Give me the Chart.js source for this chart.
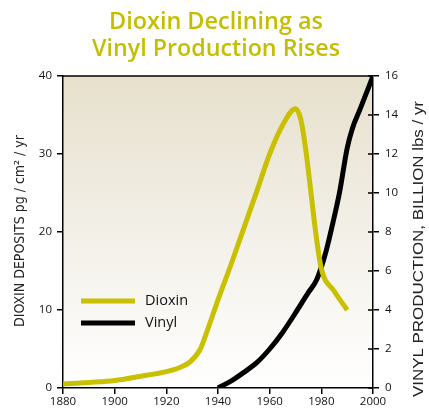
<!DOCTYPE html>
<html>
<head>
<meta charset="utf-8">
<script src="https://cdn.jsdelivr.net/npm/chart.js@4.4.1/dist/chart.umd.min.js"></script>
<style>
html,body{margin:0;padding:0;background:#fff;}
#wrap{width:429px;height:417px;position:relative;}
</style>
</head>
<body>
<div id="wrap"><canvas id="c" width="429" height="417"></canvas></div>
<script>
const titleLines = ["Dioxin Declining as", "Vinyl Production Rises"];
const dioxinYears  = [1880,1890,1900,1910,1920,1925,1929,1933,1936,1940,1945,1950,1955,1960,1965,1970,1972,1974,1976,1978,1980,1985,1990];
const dioxinValues = [0.5,0.7,0.95,1.5,2.1,2.6,3.3,4.9,7.5,11.3,15.8,20.5,25.2,30,33.7,35.8,34.5,30.5,25,19.5,15.3,12.4,10];
const vinylYears  = [1940,1945,1950,1955,1960,1965,1970,1975,1978,1980,1982,1984,1987,1990,1992,1995,2000];
const vinylValues = [0,0.35,0.8,1.3,2.0,2.85,3.85,4.9,5.5,6.2,7.1,8.2,10,12.3,13.3,14.3,16];
const xTicks = [1880,1900,1920,1940,1960,1980,2000];
const leftTicks = [0,10,20,30,40];
const rightTicks = [0,2,4,6,8,10,12,14,16];
const seriesNames = ["Dioxin","Vinyl"];
const seriesColors = ["#c8c000","#000000"];
const leftTitle = "DIOXIN DEPOSITS pg / cm² / yr";
const rightTitle = "VINYL PRODUCTION, BILLION lbs / yr";

const toPts = (xs, ys) => xs.map((x,i)=>({x:x, y:ys[i]}));

function fitFont(ctx, text, family, weight, width){
  ctx.font = weight + ' 20px ' + family;
  const w = ctx.measureText(text).width;
  return weight + ' ' + (20*width/w).toFixed(2) + 'px ' + family;
}

const deco = {
  id:'deco',
  beforeDraw(chart){
    const {ctx, chartArea:a} = chart;
    const g = ctx.createLinearGradient(0,a.top,0,a.bottom);
    g.addColorStop(0,'#e7e0cc');
    g.addColorStop(0.45,'#f1eee5');
    g.addColorStop(1,'#ffffff');
    ctx.save();
    ctx.fillStyle = g;
    ctx.fillRect(a.left,a.top,a.right-a.left,a.bottom-a.top);
    ctx.restore();
  },
  afterDraw(chart){
    const {ctx, chartArea:a} = chart;
    ctx.save();
    // title
    ctx.fillStyle = '#c5be00';
    ctx.textAlign = 'center';
    ctx.textBaseline = 'alphabetic';
    ctx.font = fitFont(ctx, titleLines[0], '"Open Sans", sans-serif', '600', 214);
    ctx.fillText(titleLines[0], 216, 29);
    ctx.font = fitFont(ctx, titleLines[1], '"Open Sans", sans-serif', '600', 248);
    ctx.fillText(titleLines[1], 216, 56);
    // axis titles
    ctx.fillStyle = '#222';
    ctx.textBaseline = 'middle';
    ctx.save();
    ctx.translate(20, 231);
    ctx.rotate(-Math.PI/2);
    ctx.font = fitFont(ctx, leftTitle, '"Liberation Sans Narrow", "DejaVu Sans Condensed", sans-serif', 'normal', 192);
    ctx.fillText(leftTitle, 0, 0);
    ctx.restore();
    ctx.save();
    ctx.translate(419, 249);
    ctx.rotate(-Math.PI/2);
    ctx.font = '14.5px "Liberation Sans", Arial, sans-serif';
    const rw = ctx.measureText(rightTitle).width;
    ctx.scale(296 / rw, 1);
    ctx.fillText(rightTitle, 0, 0);
    ctx.restore();
    // top border
    ctx.strokeStyle = '#000';
    ctx.lineWidth = 1.5;
    ctx.beginPath();
    ctx.moveTo(a.left, a.top); ctx.lineTo(a.right, a.top);
    ctx.stroke();
    // right axis inner tick parts
    const y2 = chart.scales.y2;
    ctx.beginPath();
    rightTicks.forEach(v=>{
      const py = y2.getPixelForValue(v);
      ctx.moveTo(a.right-5, py); ctx.lineTo(a.right, py);
    });
    ctx.stroke();
    // legend
    ctx.lineWidth = 5;
    ctx.font = '14.5px "Open Sans", sans-serif';
    ctx.textAlign = 'left';
    ctx.textBaseline = 'middle';
    const ly = [301, 323];
    chart.data.datasets.forEach((ds,i)=>{
      ctx.strokeStyle = ds.borderColor;
      ctx.beginPath();
      ctx.moveTo(81, ly[i]); ctx.lineTo(135, ly[i]);
      ctx.stroke();
      ctx.fillStyle = '#111';
      ctx.fillText(ds.label, 145, ly[i]);
    });
    ctx.restore();
  }
};

const tickFont = {family:'"Open Sans", sans-serif', size:11.5};

new Chart(document.getElementById('c'), {
  type:'line',
  data:{
    datasets:[
      {label:seriesNames[0], data:toPts(dioxinYears,dioxinValues), borderColor:seriesColors[0], borderWidth:5, pointRadius:0, cubicInterpolationMode:'monotone', yAxisID:'y', fill:false, borderCapStyle:'butt', borderJoinStyle:'round'},
      {label:seriesNames[1], data:toPts(vinylYears,vinylValues), borderColor:seriesColors[1], borderWidth:5, pointRadius:0, cubicInterpolationMode:'monotone', yAxisID:'y2', fill:false, borderJoinStyle:'round'}
    ]
  },
  options:{
    responsive:false,
    animation:false,
    events:[],
    layout:{padding:{top:76,left:0,right:0,bottom:0}},
    plugins:{legend:{display:false}, tooltip:{enabled:false}, title:{display:false}},
    scales:{
      x:{
        type:'linear', min:1880, max:2000,
        afterBuildTicks(s){ s.ticks = xTicks.map(v=>({value:v})); },
        afterFit(s){ s.height = 29; },
        ticks:{callback:v=>String(v), color:'#111', font:tickFont, padding:1, maxRotation:0},
        grid:{drawOnChartArea:false, drawTicks:true, tickLength:6, color:'#000', lineWidth:1.5},
        border:{display:true, color:'#000', width:1.5}
      },
      y:{
        type:'linear', position:'left', min:0, max:40,
        afterBuildTicks(s){ s.ticks = leftTicks.map(v=>({value:v})); },
        afterFit(s){ s.width = 63; },
        ticks:{color:'#111', font:tickFont, padding:5},
        grid:{drawOnChartArea:false, drawTicks:true, tickLength:6, color:'#000', lineWidth:1.5},
        border:{display:true, color:'#000', width:1.5}
      },
      y2:{
        type:'linear', position:'right', min:0, max:16,
        afterBuildTicks(s){ s.ticks = rightTicks.map(v=>({value:v})); },
        afterFit(s){ s.width = 56; },
        ticks:{color:'#111', font:tickFont, padding:6},
        grid:{drawOnChartArea:false, drawTicks:true, tickLength:6, color:'#000', lineWidth:1.5},
        border:{display:true, color:'#000', width:1.5}
      }
    }
  },
  plugins:[deco]
});
</script>
</body>
</html>
